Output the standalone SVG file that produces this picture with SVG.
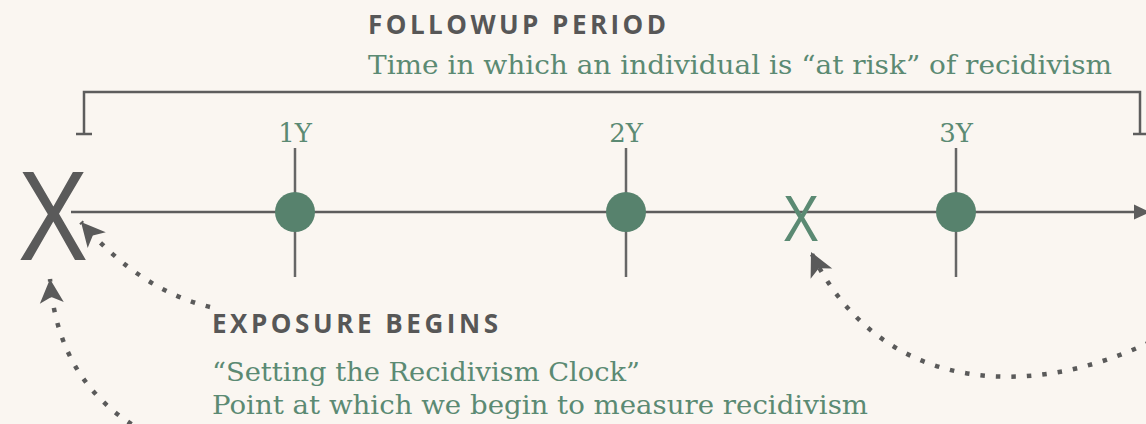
<svg xmlns="http://www.w3.org/2000/svg" width="1146" height="424" viewBox="0 0 1146 424">
<style>
.bg{fill:#faf6f1}
.head{font-family:"Open Sans","Liberation Sans",sans-serif;font-weight:700;font-size:26px;fill:#575757}
.body{font-family:"DejaVu Serif","Liberation Serif",serif;font-size:26.5px;fill:#5b8a73}
.yl{font-family:"DejaVu Serif","Liberation Serif",serif;font-size:26px;fill:#5b8a73;text-anchor:middle}
.line{stroke:#5d5d5d;stroke-width:2.5;fill:none}
.tick{stroke:#666;stroke-width:2.5}
.dot{fill:#57826d}
.dots{stroke:#5a5a5a;stroke-width:4.5;fill:none;stroke-dasharray:4.5 11}
</style>
<defs>
<marker id="stealth" markerUnits="userSpaceOnUse" markerWidth="26" markerHeight="26" viewBox="0 0 26 26" refX="25" refY="13" orient="auto">
<path d="M1,1 L25,13 L1,25 L7,13 Z" fill="#5a5a5a"/>
</marker>
</defs>
<rect class="bg" x="0" y="0" width="1146" height="424"/>
<g id="connectors">
<path class="line" d="M76,134 H92 M84,134 V92 H1140 V134 M1133,134 H1148"/>
<line class="line" x1="71" y1="212" x2="1138" y2="212"/>
<polygon points="1134,204.5 1150,212 1134,219.5" fill="#5d5d5d"/>
<path class="dots" d="M210,307 Q140,290 81,222" marker-end="url(#stealth)"/>
<path class="dots" d="M145,432 Q58,385 50,279" marker-end="url(#stealth)"/>
<path class="dots" d="M1150,342 C1030,400 880,395 811,252" marker-end="url(#stealth)"/>
</g>
<g id="exposure-start">
<text x="18" y="260" textLength="70" lengthAdjust="spacingAndGlyphs" style="font-family:'Liberation Sans',sans-serif;font-size:128px;fill:#5a5a5a">X</text>
</g>
<g id="year-1">
<line class="tick" x1="295" y1="148" x2="295" y2="277"/>
<circle class="dot" cx="295" cy="212" r="20"/>
<text class="yl" x="295" y="142">1Y</text>
</g>
<g id="year-2">
<line class="tick" x1="626" y1="148" x2="626" y2="277"/>
<circle class="dot" cx="626" cy="212" r="20"/>
<text class="yl" x="626" y="142">2Y</text>
</g>
<g id="recidivism-event">
<text x="783" y="241" textLength="36" lengthAdjust="spacingAndGlyphs" style="font-family:'Liberation Sans',sans-serif;font-size:64px;fill:#5b8a73">X</text>
</g>
<g id="year-3">
<line class="tick" x1="956" y1="148" x2="956" y2="277"/>
<circle class="dot" cx="956" cy="212" r="20"/>
<text class="yl" x="956" y="142">3Y</text>
</g>
<g id="followup-label">
<text class="head" x="368" y="34" textLength="298" lengthAdjust="spacing">FOLLOWUP PERIOD</text>
<text class="body" x="368" y="74" textLength="744" lengthAdjust="spacingAndGlyphs">Time in which an individual is “at risk” of recidivism</text>
</g>
<g id="exposure-label">
<text class="head" x="212" y="333" textLength="286" lengthAdjust="spacing">EXPOSURE BEGINS</text>
<text class="body" x="212" y="381" textLength="428" lengthAdjust="spacingAndGlyphs">“Setting the Recidivism Clock”</text>
<text class="body" x="212" y="414" textLength="656" lengthAdjust="spacingAndGlyphs">Point at which we begin to measure recidivism</text>
</g>
</svg>
